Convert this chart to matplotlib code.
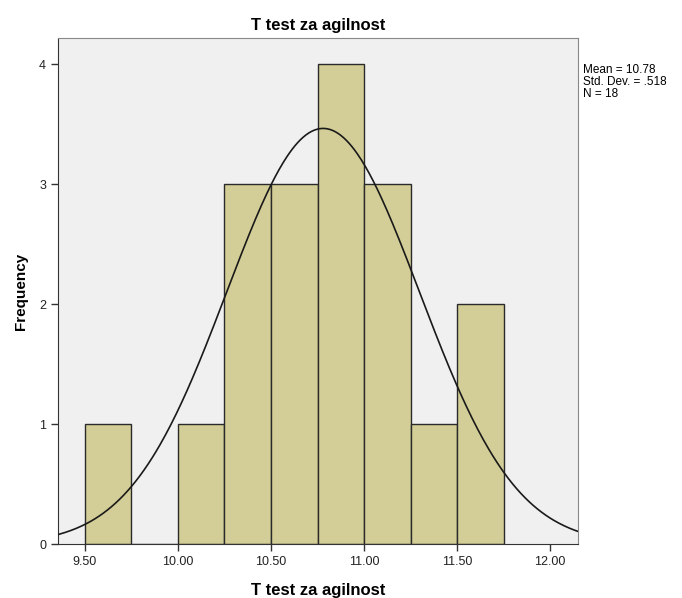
import numpy as np
import matplotlib
matplotlib.use("Agg")
import matplotlib.pyplot as plt

plt.rcParams['font.family'] = ['Liberation Sans', 'DejaVu Sans']

# histogram bins (width .25) and counts
bin_edges = [9.50, 9.75, 10.00, 10.25, 10.50, 10.75, 11.00, 11.25, 11.50, 11.75]
counts = [1, 0, 1, 3, 3, 4, 3, 1, 2]
mean, sd, n = 10.78, 0.518, 18
xticks = [9.50, 10.00, 10.50, 11.00, 11.50, 12.00]
yticks = [0, 1, 2, 3, 4]

fig = plt.figure(figsize=(6.82, 5.98), dpi=100)
ax = fig.add_axes([0.085, 0.0903, 0.7625, 0.8462])
ax.set_facecolor('#f0f0f0')

widths = np.diff(bin_edges)
ax.bar(bin_edges[:-1], counts, width=widths, align='edge',
       color='#d3ce97', edgecolor='#2a2a2a', linewidth=1.0, zorder=2)

# normal curve scaled to the counts
xs = np.linspace(9.30, 12.20, 400)
bw = 0.25
ys = n * bw / (sd * np.sqrt(2 * np.pi)) * np.exp(-0.5 * ((xs - mean) / sd) ** 2)
ax.plot(xs, ys, color='#1a1a1a', linewidth=1.2, zorder=3)

ax.set_xlim(9.355, 12.15)
ax.set_ylim(0, 4.22)
ax.set_xticks(xticks)
ax.set_xticklabels(['%.2f' % t for t in xticks])
ax.set_yticks(yticks)
ax.tick_params(direction='out', length=5, width=1, colors='#333333', labelsize=9,
               labelcolor='#222222')
for s in ['top', 'right']:
    ax.spines[s].set_color('#888888')
for s in ['left', 'bottom']:
    ax.spines[s].set_color('#333333')

ax.set_title('T test za agilnost', fontsize=12, fontweight='bold', pad=6)
ax.set_xlabel('T test za agilnost', fontsize=12, fontweight='bold', labelpad=11)
ax.set_ylabel('Frequency', fontsize=11, fontweight='bold', labelpad=8)

fig.text(0.855, 0.893, 'Mean = 10.78\nStd. Dev. = .518\nN = 18', fontsize=8.5,
         va='top', ha='left', linespacing=1.0)

fig.savefig('out.png', dpi=100)
